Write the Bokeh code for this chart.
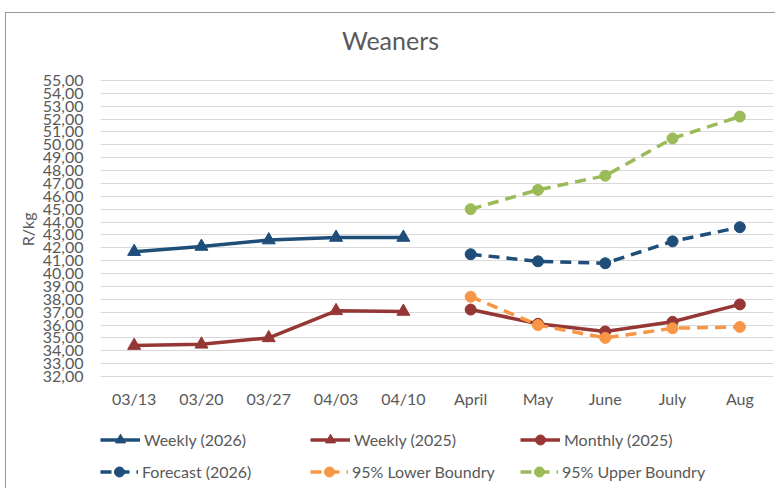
from bokeh.plotting import figure
from bokeh.models import Range1d, FixedTicker, Legend, LegendItem, FactorRange, Title, Label
from bokeh.embed import file_html
from bokeh.resources import INLINE

# ---- data ----
weeks = ["03/13", "03/20", "03/27", "04/03", "04/10"]
months = ["April", "May", "June", "July", "Aug"]
categories = weeks + months

weekly_2026 = [41.7, 42.1, 42.6, 42.8, 42.8]
weekly_2025 = [34.4, 34.5, 35.0, 37.1, 37.05]
monthly_2025 = [37.2, 36.1, 35.5, 36.25, 37.6]
forecast_2026 = [41.5, 40.95, 40.8, 42.5, 43.6]
lower_95 = [38.2, 36.0, 35.0, 35.75, 35.85]
upper_95 = [45.0, 46.5, 47.6, 50.5, 52.2]

y_ticks = [32, 33, 34, 35, 36, 37, 38, 39, 40, 41, 42, 43, 44, 45, 46, 47, 48, 49, 50, 51, 52, 53, 54, 55]
y_tick_labels = ["32,00", "33,00", "34,00", "35,00", "36,00", "37,00", "38,00", "39,00", "40,00", "41,00",
                 "42,00", "43,00", "44,00", "45,00", "46,00", "47,00", "48,00", "49,00", "50,00", "51,00",
                 "52,00", "53,00", "54,00", "55,00"]

title_text = "Weaners"
y_label = "R/kg"

# ---- style / layout ----
FONT = "Lato"
TXT = "#595959"
C_BLUE = "#1F4E79"
C_RED = "#953735"
C_ORANGE = "#F79646"
C_GREEN = "#9BBB59"
DASH = "11 7"

CANVAS_H = 476
Y_MIN, Y_MAX = 32, 55
PLOT_H = 296            # pixel height of the 32..55 band
EXTRA_ABOVE = 67        # room above 55 for the title
EXTRA_BELOW = CANVAS_H - PLOT_H - EXTRA_ABOVE   # room below 32 for labels and legend
px_per_unit = PLOT_H / (Y_MAX - Y_MIN)
y_start = Y_MIN - EXTRA_BELOW / px_per_unit
y_end = Y_MAX + EXTRA_ABOVE / px_per_unit

p = figure(x_range=FactorRange(factors=categories), y_range=Range1d(y_start, y_end),
           width=770, height=CANVAS_H, output_backend="svg", toolbar_location=None,
           min_border_left=94, min_border_right=3, min_border_top=0, min_border_bottom=0)
p.margin = (12, 0, 0, 5)
p.styles = {"border-left": "1px solid #9a9a9a", "border-top": "1px solid #9a9a9a"}
p.outline_line_color = None
p.background_fill_color = "white"
p.border_fill_color = "white"

p.xgrid.grid_line_color = None
p.ygrid.grid_line_color = "#d9d9d9"
p.ygrid.grid_line_width = 1

p.yaxis.ticker = FixedTicker(ticks=y_ticks)
p.yaxis.major_label_overrides = {t: l for t, l in zip(y_ticks, y_tick_labels)}
for ax in (p.xaxis[0], p.yaxis[0]):
    ax.axis_line_color = None
    ax.major_tick_line_color = None
    ax.minor_tick_line_color = None
    ax.major_tick_out = 0
    ax.major_tick_in = 0
    ax.major_label_text_font = FONT
    ax.major_label_text_font_size = "16px"
    ax.major_label_text_color = TXT
p.yaxis.major_label_standoff = 17
p.xaxis.major_label_standoff = 12
p.xaxis.fixed_location = Y_MIN

p.add_layout(Title(text=y_label, align="right", offset=199, standoff=5,
                   text_font=FONT, text_font_size="16px", text_font_style="normal",
                   text_color=TXT), "left")

p.add_layout(Label(x=290, y=EXTRA_BELOW + PLOT_H + 41, x_units="screen", y_units="screen",
                   text=title_text, text_align="center", text_baseline="alphabetic",
                   text_font=FONT, text_font_size="25px", text_color=TXT))

LW = 3.5
r1l = p.line(weeks, weekly_2026, line_color=C_BLUE, line_width=LW)
r1m = p.scatter(weeks, weekly_2026, marker="triangle", size=13, color=C_BLUE)
r2l = p.line(weeks, weekly_2025, line_color=C_RED, line_width=LW)
r2m = p.scatter(weeks, weekly_2025, marker="triangle", size=13, color=C_RED)
r3l = p.line(months, monthly_2025, line_color=C_RED, line_width=LW)
r3m = p.scatter(months, monthly_2025, marker="circle", size=11, color=C_RED)
r4l = p.line(months, forecast_2026, line_color=C_BLUE, line_width=LW, line_dash=DASH)
r4m = p.scatter(months, forecast_2026, marker="circle", size=11, color=C_BLUE)
r5l = p.line(months, lower_95, line_color=C_ORANGE, line_width=LW, line_dash=DASH)
r5m = p.scatter(months, lower_95, marker="circle", size=11, color=C_ORANGE)
r6l = p.line(months, upper_95, line_color=C_GREEN, line_width=LW, line_dash=DASH)
r6m = p.scatter(months, upper_95, marker="circle", size=11, color=C_GREEN)

rows = [
    ([("Weekly (2026)", [r1l, r1m]), ("Weekly (2025)", [r2l, r2m]), ("Monthly (2025)", [r3l, r3m])],
     (0, 37), 40, 4),
    ([("Forecast (2026)", [r4l, r4m]), ("95% Lower Boundry", [r5l, r5m]), ("95% Upper Boundry", [r6l, r6m])],
     (0, 5), 38, 4),
]
for items, loc, gw, st in rows:
    lg = Legend(items=[LegendItem(label=lab, renderers=rs) for lab, rs in items],
                location=loc, orientation="horizontal",
                glyph_width=gw, glyph_height=25, label_height=25, label_standoff=st,
                label_width=210 - gw - st,
                padding=0, margin=0, spacing=0, border_line_color=None,
                background_fill_alpha=0, label_text_font=FONT, label_text_font_size="16px",
                label_text_color=TXT)
    p.add_layout(lg, "center")

open("out.html", "w").write(file_html(p, INLINE))
